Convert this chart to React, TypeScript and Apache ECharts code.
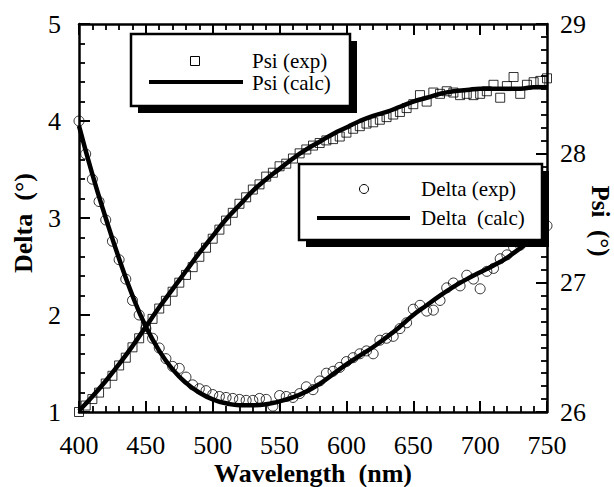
import React, { useEffect, useRef } from 'react';
import * as echarts from 'echarts';

// Measured wavelengths (nm)
const wavelengths = [
  400, 405, 410, 415, 420, 425, 430, 435, 440, 445,
  450, 455, 460, 465, 470, 475, 480, 485, 490, 495,
  500, 505, 510, 515, 520, 525, 530, 535, 540, 545,
  550, 555, 560, 565, 570, 575, 580, 585, 590, 595,
  600, 605, 610, 615, 620, 625, 630, 635, 640, 645,
  650, 655, 660, 665, 670, 675, 680, 685, 690, 695,
  700, 705, 710, 715, 720, 725, 730, 735, 740, 745,
  750,
];

// Delta (exp), degrees
const deltaExp = [
  4.00, 3.66, 3.40, 3.17, 2.98, 2.76, 2.57, 2.37, 2.15, 2.00,
  1.86, 1.76, 1.66, 1.55, 1.47, 1.45, 1.36, 1.28, 1.24, 1.22,
  1.18, 1.16, 1.15, 1.14, 1.13, 1.12, 1.12, 1.14, 1.13, 1.06,
  1.17, 1.16, 1.15, 1.19, 1.26, 1.23, 1.32, 1.40, 1.42, 1.46,
  1.52, 1.56, 1.60, 1.63, 1.60, 1.74, 1.76, 1.78, 1.86, 1.92,
  2.06, 2.10, 2.04, 2.05, 2.15, 2.28, 2.33, 2.30, 2.41, 2.37,
  2.27, 2.45, 2.48, 2.58, 2.62, 2.70, 2.72, 2.80, 2.84, 2.88,
  2.92,
];

// Psi (exp), degrees
const psiExp = [
  26.00, 26.05, 26.10, 26.15, 26.22, 26.28, 26.36, 26.42, 26.50, 26.57,
  26.66, 26.72, 26.80, 26.86, 26.93, 27.00, 27.06, 27.12, 27.20, 27.27,
  27.34, 27.41, 27.48, 27.54, 27.61, 27.66, 27.72, 27.76, 27.82, 27.85,
  27.90, 27.92, 27.96, 28.00, 28.03, 28.06, 28.08, 28.10, 28.11, 28.13,
  28.16, 28.19, 28.21, 28.23, 28.24, 28.26, 28.28, 28.30, 28.32, 28.35,
  28.38, 28.45, 28.40, 28.47, 28.46, 28.48, 28.47, 28.45, 28.46, 28.45,
  28.46, 28.48, 28.53, 28.43, 28.52, 28.59, 28.46, 28.53, 28.55, 28.56,
  28.58,
];

// Model wavelengths (nm)
const calcWavelengths = [
  400, 410, 420, 430, 440, 450, 460, 470, 480, 490,
  500, 510, 520, 530, 540, 550, 560, 570, 580, 590,
  600, 610, 620, 630, 640, 650, 660, 670, 680, 690,
  700, 710, 720, 730, 740, 750,
];

const deltaCalc = [
  3.95, 3.45, 3.00, 2.58, 2.20, 1.88, 1.63, 1.44, 1.30, 1.20,
  1.13, 1.09, 1.07, 1.07, 1.08, 1.11, 1.15, 1.21, 1.29, 1.39,
  1.49, 1.58, 1.67, 1.77, 1.88, 2.00, 2.10, 2.20, 2.29, 2.37,
  2.44, 2.51, 2.59, 2.69, 2.79, 2.89,
];

const psiCalc = [
  26.01, 26.12, 26.24, 26.37, 26.51, 26.66, 26.81, 26.95, 27.09, 27.23,
  27.36, 27.49, 27.60, 27.71, 27.80, 27.88, 27.96, 28.03, 28.09, 28.15,
  28.20, 28.25, 28.29, 28.32, 28.36, 28.40, 28.43, 28.46, 28.48, 28.49,
  28.50, 28.50, 28.50, 28.50, 28.51, 28.51,
];

const xTicks = { min: 400, max: 750, interval: 50 };
const deltaTicks = { min: 1, max: 5, interval: 1 };
const psiTicks = { min: 26, max: 29, interval: 1 };

const serif = 'Liberation Serif';

export default function App() {
  const ref = useRef<HTMLDivElement>(null);

  useEffect(() => {
    document.body.style.margin = '0';
    const chart = echarts.init(ref.current as HTMLDivElement, null, { renderer: 'svg' });

    const axisBase = (minorSplit: number) => ({
      axisLine: { show: true, onZero: false, lineStyle: { color: '#000', width: 2.5 } },
      axisTick: { show: true, inside: true, length: 11, lineStyle: { color: '#000', width: 2 } },
      minorTick: { show: true, splitNumber: minorSplit, length: 6, lineStyle: { color: '#000', width: 1.8 } },
      splitLine: { show: false },
      minorSplitLine: { show: false },
    });

    const labelStyle = {
      fontFamily: serif,
      fontSize: 26,
      fontWeight: 'normal',
      color: '#000',
      showMinLabel: true,
      showMaxLabel: true,
    };

    const pairs = (xs: number[], ys: number[]) => xs.map((x, i) => [x, ys[i]]);

    const hollow = { color: 'rgba(0,0,0,0)', borderColor: '#000', borderWidth: 1 };

    const txt = (x: number, y: number, text: string, size: number, bold: boolean, align: string, rotation = 0) => ({
      type: 'text',
      x,
      y,
      rotation,
      z: 102,
      style: {
        text,
        fontFamily: serif,
        fontSize: size,
        fontWeight: bold ? 'bold' : 'normal',
        fill: '#000',
        textAlign: align,
        textVerticalAlign: 'middle',
        align,
        verticalAlign: 'middle',
      },
    });

    const legendBox = (x: number, y: number, w: number, h: number) => [
      { type: 'rect', z: 100, shape: { x: x + 7, y: y + 7, width: w, height: h }, style: { fill: '#000' } },
      { type: 'rect', z: 101, shape: { x, y, width: w, height: h }, style: { fill: '#fff', stroke: '#000', lineWidth: 2.5 } },
    ];

    const option: any = {
      animation: false,
      backgroundColor: '#fff',
      textStyle: { fontFamily: serif },
      grid: { left: 79, top: 24, width: 468, height: 388, containLabel: false },
      xAxis: [
        {
          type: 'value',
          position: 'bottom',
          ...xTicks,
          ...axisBase(5),
          axisLabel: { ...labelStyle, margin: 20 },
        },
        {
          type: 'value',
          position: 'top',
          ...xTicks,
          ...axisBase(5),
          axisLabel: { show: false },
        },
      ],
      yAxis: [
        {
          type: 'value',
          position: 'left',
          ...deltaTicks,
          ...axisBase(5),
          axisLabel: { ...labelStyle, margin: 18 },
        },
        {
          type: 'value',
          position: 'right',
          ...psiTicks,
          ...axisBase(10),
          axisLabel: { ...labelStyle, margin: 13 },
        },
      ],
      series: [
        {
          name: 'Psi (exp)',
          type: 'scatter',
          xAxisIndex: 0,
          yAxisIndex: 1,
          symbol: 'rect',
          symbolSize: 9,
          itemStyle: hollow,
          data: pairs(wavelengths, psiExp),
          z: 2,
        },
        {
          name: 'Delta (exp)',
          type: 'scatter',
          xAxisIndex: 0,
          yAxisIndex: 0,
          symbol: 'circle',
          symbolSize: 10,
          itemStyle: hollow,
          data: pairs(wavelengths, deltaExp),
          z: 2,
        },
        {
          name: 'Psi (calc)',
          type: 'line',
          xAxisIndex: 0,
          yAxisIndex: 1,
          smooth: true,
          symbol: 'none',
          lineStyle: { color: '#000', width: 4.5 },
          data: pairs(calcWavelengths, psiCalc),
          z: 3,
        },
        {
          name: 'Delta (calc)',
          type: 'line',
          xAxisIndex: 0,
          yAxisIndex: 0,
          smooth: true,
          symbol: 'none',
          lineStyle: { color: '#000', width: 4.5 },
          data: pairs(calcWavelengths, deltaCalc),
          z: 3,
        },
      ],
      graphic: [
        // Psi legend
        ...legendBox(131, 34, 219, 72),
        { type: 'rect', z: 102, shape: { x: 190.5, y: 56.5, width: 9, height: 9 }, style: { fill: 'none', stroke: '#000', lineWidth: 1 } },
        { type: 'line', z: 102, shape: { x1: 149, y1: 82, x2: 243, y2: 82 }, style: { stroke: '#000', lineWidth: 4 } },
        txt(252, 61, 'Psi (exp)', 21, false, 'left'),
        txt(252, 83, 'Psi (calc)', 21, false, 'left'),
        // Delta legend
        ...legendBox(299, 164, 243, 76),
        { type: 'circle', z: 102, shape: { cx: 364, cy: 189, r: 4.5 }, style: { fill: 'none', stroke: '#000', lineWidth: 1 } },
        { type: 'line', z: 102, shape: { x1: 317, y1: 218, x2: 410, y2: 218 }, style: { stroke: '#000', lineWidth: 4 } },
        txt(421, 189, 'Delta (exp)', 21, false, 'left'),
        txt(421, 218, 'Delta  (calc)', 21, false, 'left'),
        // Axis titles
        txt(23, 223, 'Delta  (°)', 26, true, 'center', Math.PI / 2),
        txt(600, 221, 'Psi  (°)', 25, true, 'center', -Math.PI / 2),
        txt(313, 473, 'Wavelength  (nm)', 26, true, 'center'),
      ],
    };

    chart.setOption(option);
    return () => chart.dispose();
  }, []);

  return <div ref={ref} style={{ width: 614, height: 487 }} />;
}
